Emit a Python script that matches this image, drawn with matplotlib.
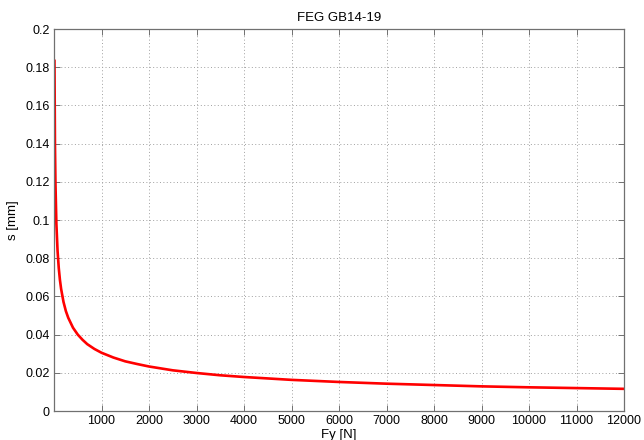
import matplotlib
matplotlib.use("Agg")
import matplotlib.pyplot as plt
from matplotlib.ticker import FuncFormatter

plt.rcParams['font.family'] = ['Liberation Sans', 'DejaVu Sans']

# Data
force_N = [10, 20, 30, 50, 75, 100, 125, 150, 200, 250, 300, 400, 500, 600, 700, 850,
           1000, 1250, 1500, 1750, 2000, 2500, 3000, 3500, 4000, 5000, 6000, 7000,
           8000, 9000, 10000, 11000, 12000]
s_mm = [0.184, 0.140, 0.120, 0.098, 0.0838, 0.0749, 0.0686, 0.0639, 0.0571, 0.0523,
        0.0488, 0.0436, 0.0400, 0.0373, 0.0350, 0.0325, 0.0305, 0.0280, 0.0260,
        0.0246, 0.0233, 0.0213, 0.0199, 0.0187, 0.0178, 0.0163, 0.0152, 0.0143,
        0.0136, 0.0129, 0.0124, 0.0120, 0.0116]
x_ticks = [1000, 2000, 3000, 4000, 5000, 6000, 7000, 8000, 9000, 10000, 11000, 12000]
y_ticks = [0, 0.02, 0.04, 0.06, 0.08, 0.1, 0.12, 0.14, 0.16, 0.18, 0.2]
title = "FEG GB14-19"
x_label = "Fy [N]"
y_label = "s [mm]"

fig = plt.figure(figsize=(6.44, 4.40), dpi=100)
ax = fig.add_axes([54/644, 29/440, 570/644, 382/440])

ax.plot(force_N, s_mm, color='#ff0000', linewidth=1.9, solid_capstyle='butt',
        solid_joinstyle='round')

ax.set_xlim(0, 12000)
ax.set_ylim(0, 0.2)
ax.set_xticks(x_ticks)
ax.set_yticks(y_ticks)
ax.yaxis.set_major_formatter(FuncFormatter(lambda v, p: f"{v:g}"))

ax.grid(True, color='#a0a0a0', linestyle=(0, (1, 2.5)), linewidth=0.7)
for sp in ax.spines.values():
    sp.set_color('#707070')
    sp.set_linewidth(0.9)
ax.tick_params(direction='in', length=4, width=0.7, color='#707070',
               top=True, right=True, labelsize=9, labelcolor='black', pad=3)

ax.set_title(title, fontsize=9.5, pad=6)
ax.set_xlabel(x_label, fontsize=9.5, labelpad=1)
ax.set_ylabel(y_label, fontsize=9.5, labelpad=5)

fig.savefig("out.png", dpi=100)
